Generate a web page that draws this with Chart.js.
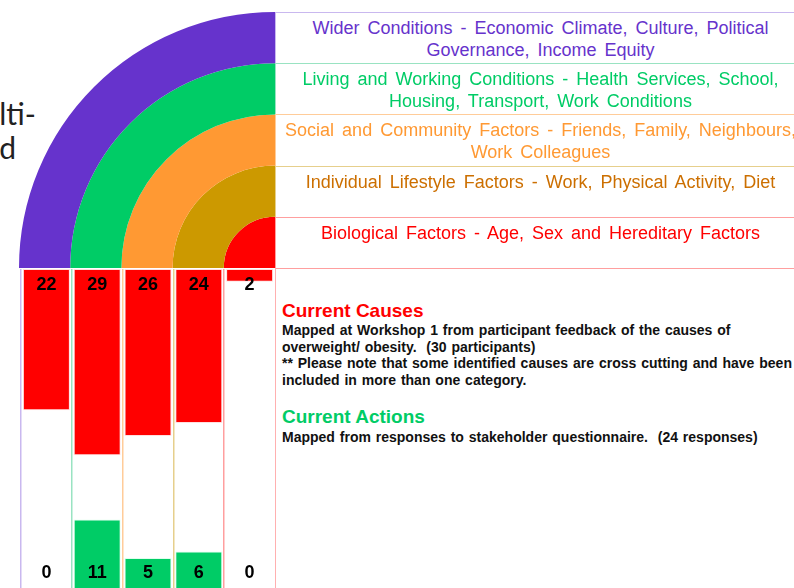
<!DOCTYPE html>
<html><head><meta charset="utf-8">
<script src="https://cdn.jsdelivr.net/npm/chart.js@4.4.1/dist/chart.umd.min.js"></script>
<style>
html,body{margin:0;padding:0;width:794px;height:588px;overflow:hidden;background:#fff;position:relative;font-family:"Liberation Sans",Arial,sans-serif;}
canvas{position:absolute;display:block;}
.row{position:absolute;left:275px;width:530px;box-sizing:border-box;border-top:1px solid;border-left:1px solid;text-align:center;font-size:18px;line-height:22px;padding-top:4px;white-space:nowrap;word-spacing:3px;}
.hline{position:absolute;height:1px;}
.vline{position:absolute;width:1px;}
.title{position:absolute;font-family:Lato,"DejaVu Sans",sans-serif;font-size:30px;line-height:34px;color:#222;text-align:right;white-space:nowrap;}
.note{position:absolute;left:282px;white-space:nowrap;font-weight:bold;}
.nh{font-size:19px;line-height:20px;}
.nb{font-size:14px;line-height:16.6px;color:#111;word-spacing:1px;}
</style></head>
<body>
<div class="title" style="left:-300px;width:336px;top:96px;">multi-</div>
<div class="title" style="left:-300px;width:316px;top:130px;">layered</div>

<canvas id="rings" width="256" height="256" style="left:19px;top:12px;"></canvas>
<canvas id="bars" width="266" height="326" style="left:15px;top:266px;"></canvas>

<div id="rows"></div>
<div class="hline" style="left:275px;top:268px;width:520px;background:#ff9f9f;"></div>
<div class="vline" style="left:275px;top:268px;height:320px;background:#ffb0b0;"></div>

<div class="note nh" style="top:301px;color:#ff0000;">Current Causes</div>
<div class="note nb" style="top:322px;">Mapped at Workshop 1 from participant feedback of the causes of<br>overweight/ obesity.&nbsp; (30 participants)<br>** Please note that some identified causes are cross cutting and have been<br>included in more than one category.</div>
<div class="note nh" style="top:407px;color:#00cc66;">Current Actions</div>
<div class="note nb" style="top:428.7px;">Mapped from responses to stakeholder questionnaire.&nbsp; (24 responses)</div>

<script>
// ---- data ----
const categories = ['Wider Conditions','Living and Working Conditions','Social and Community Factors','Individual Lifestyle Factors','Biological Factors'];
const rowLabels = [
  ['Wider Conditions - Economic Climate, Culture, Political','Governance, Income Equity'],
  ['Living and Working Conditions - Health Services, School,','Housing, Transport, Work Conditions'],
  ['Social and Community Factors - Friends, Family, Neighbours,','Work Colleagues'],
  ['Individual Lifestyle Factors - Work, Physical Activity, Diet'],
  ['Biological Factors - Age, Sex and Hereditary Factors']
];
const currentCauses = [22, 29, 26, 24, 2];
const currentActions = [0, 11, 5, 6, 0];
const scaleMax = 50;

// ---- styles ----
const ringColors = ['#6633cc','#00cc66','#ff9933','#cc9900','#ff0000'];
const textColors = ['#6633cc','#00cc66','#ff9933','#cc6f00','#ff0000'];
const lightColors = ['#c9b8ef','#99e3c2','#ffcc99','#e6cf8c','#ff9f9f'];

// right-hand label rows
const rowTops = [12, 63, 114, 166, 217];
const rowsEl = document.getElementById('rows');
rowLabels.forEach((lines, i) => {
  const d = document.createElement('div');
  d.className = 'row';
  d.style.top = rowTops[i] + 'px';
  d.style.height = ((i < 4 ? rowTops[i+1] : 268) - rowTops[i]) + 'px';
  d.style.borderColor = lightColors[i];
  d.style.color = textColors[i];
  d.innerHTML = lines.join('<br>');
  rowsEl.appendChild(d);
});

// concentric quarter rings
new Chart(document.getElementById('rings'), {
  type: 'doughnut',
  data: {
    labels: ['ring'],
    datasets: categories.map((c, i) => ({
      label: c,
      data: [1],
      backgroundColor: ringColors[i],
      borderWidth: 0
    }))
  },
  options: {
    responsive: false,
    animation: false,
    rotation: -90,
    circumference: 90,
    cutout: 0,
    layout: { padding: 0 },
    plugins: { legend: { display: false }, tooltip: { enabled: false } }
  }
});

// bars: causes hang from the top, actions rise from the bottom
const valueLabels = {
  id: 'valueLabels',
  afterDatasetsDraw(chart) {
    const { ctx, chartArea, scales } = chart;
    ctx.save();
    ctx.font = 'bold 18px "Liberation Sans", Arial, sans-serif';
    ctx.fillStyle = '#000';
    ctx.textAlign = 'center';
    ctx.textBaseline = 'middle';
    categories.forEach((c, i) => {
      const x = scales.x.getPixelForValue(i);
      ctx.fillText(String(currentCauses[i]), x, chartArea.top + 16);
      ctx.fillText(String(currentActions[i]), x, chartArea.bottom - 17);
    });
    ctx.restore();
  }
};

new Chart(document.getElementById('bars'), {
  type: 'bar',
  data: {
    labels: categories,
    datasets: [
      {
        label: 'Current Causes',
        data: currentCauses.map(v => [scaleMax - v, scaleMax]),
        backgroundColor: '#ff0000',
        borderColor: 'rgba(255,220,220,0.9)',
        borderWidth: 1,
        borderSkipped: false,
        grouped: false,
        barPercentage: 0.925,
        categoryPercentage: 1
      },
      {
        label: 'Current Actions',
        data: currentActions.map(v => [0, v]),
        backgroundColor: '#00cc66',
        borderColor: 'rgba(220,255,235,0.9)',
        borderWidth: 1,
        borderSkipped: false,
        grouped: false,
        barPercentage: 0.925,
        categoryPercentage: 1
      }
    ]
  },
  options: {
    responsive: false,
    animation: false,
    layout: { padding: { left: 6, right: 6, top: 3, bottom: 2 } },
    plugins: { legend: { display: false }, tooltip: { enabled: false } },
    scales: {
      x: {
        offset: true,
        ticks: { display: false },
        border: { display: false },
        grid: {
          offset: true,
          drawTicks: false,
          lineWidth: 1.5,
          color: ctx => lightColors[Math.min(ctx.index, 4)]
        }
      },
      y: {
        display: false,
        min: 0,
        max: scaleMax
      }
    }
  },
  plugins: [valueLabels]
});
</script>
</body></html>
